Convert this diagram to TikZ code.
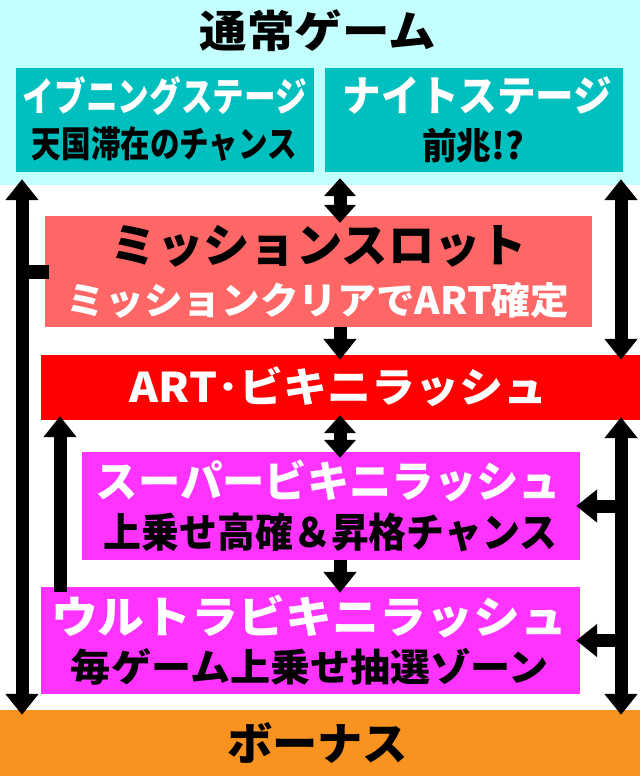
\documentclass[tikz,border=0pt]{standalone}
\usepackage{fontspec}
\usepackage{graphicx}
\newfontfamily\jpfont{Noto Sans CJK JP}
\usetikzlibrary{arrows.meta}
\definecolor{bandc}{HTML}{C4FFFF}
\definecolor{tealc}{HTML}{00BFBF}
\definecolor{salmonc}{HTML}{FF6666}
\definecolor{redc}{HTML}{FF0000}
\definecolor{magc}{HTML}{FF33FF}
\definecolor{orangec}{HTML}{F7931E}
\newcommand\fitbox[3]{\resizebox*{#1pt}{#2pt}{\jpfont\bfseries #3}}
\begin{document}
\begin{tikzpicture}[x=1pt,y=-1pt,
  boxs/.style={rectangle,inner sep=0pt,draw=none},
  lbl/.style={inner sep=0pt,outer sep=0pt,text=black},
  wlbl/.style={lbl,text=white},
  >={Triangle[width=32pt,length=21pt]},
  conn/.style={line width=13pt,draw=black},
  shortconn/.style={line width=13pt,draw=black,>={Triangle[width=31pt,length=18pt]}},
  barline/.style={line width=14pt,draw=black}]
\useasboundingbox (0,0) rectangle (640,776);
\fill[white] (0,0) rectangle (640,776);
% boxes
\node[boxs,fill=bandc,minimum width=640pt,minimum height=185pt] (band) at (320,92.5) {};
\node[boxs,fill=tealc,minimum width=298pt,minimum height=104pt] (even) at (165,120) {};
\node[boxs,fill=tealc,minimum width=298pt,minimum height=104pt] (night) at (474,120) {};
\node[boxs,fill=salmonc,minimum width=547pt,minimum height=111pt] (mission) at (318.5,271.5) {};
\node[boxs,fill=redc,minimum width=599pt,minimum height=65pt] (art) at (340.5,387.5) {};
\node[boxs,fill=magc,minimum width=498pt,minimum height=108pt] (super) at (331,506) {};
\node[boxs,fill=magc,minimum width=539pt,minimum height=107pt] (ultra) at (310.5,640.5) {};
\node[boxs,fill=orangec,minimum width=640pt,minimum height=66pt] (bonus) at (320,743) {};
% texts
\node[lbl] (t1) at (318,31) {\fitbox{236}{42}{通常ゲーム}};
\node[wlbl] (t2) at (165,95.5) {\fitbox{284}{39}{イブニングステージ}};
\node[lbl] (t3) at (164.5,144.5) {\fitbox{265}{35}{天国滞在のチャンス}};
\node[wlbl] (t4) at (477.5,96) {\fitbox{269}{38}{ナイトステージ}};
\node[lbl] (t5) at (473,145.5) {\fitbox{102}{35}{前兆!?}};
\node[lbl] (t6) at (319,246) {\fitbox{416}{42}{ミッションスロット}};
\node[wlbl] (t7) at (318,300) {\fitbox{502}{36}{ミッションクリアでART確定}};
\node[wlbl] (t8) at (338.5,387) {\fitbox{417}{40}{ART･ビキニラッシュ}};
\node[wlbl] (t9) at (328.5,481) {\fitbox{465}{42}{スーパービキニラッシュ}};
\node[lbl] (t10) at (330.5,532.5) {\fitbox{453}{39}{上乗せ高確＆昇格チャンス}};
\node[wlbl] (t11) at (309,616.5) {\fitbox{516}{43}{ウルトラビキニラッシュ}};
\node[lbl] (t12) at (310,666.5) {\fitbox{478}{37}{毎ゲーム上乗せ抽選ゾーン}};
\node[lbl] (t13) at (317.5,742.5) {\fitbox{181}{41}{ボーナス}};
% column positions
\coordinate (xl) at (22,0);
\coordinate (xl2) at (60,0);
\coordinate (xm) at (340,0);
\coordinate (xr) at (621,0);
% connectors
\draw[conn,<->] ([yshift=6pt]band.south -| xl) -- ([yshift=-5pt]bonus.north -| xl);
\draw[barline] (mission.west -| xl) -- ([xshift=4pt]mission.west);
\draw[shortconn,<->] ([yshift=7pt]band.south -| xm) -- ([yshift=-7pt]mission.north -| xm);
\draw[conn,->] (mission.south -| xm) -- ([yshift=-5pt]art.north -| xm);
\draw[conn,<->] ([yshift=6pt]band.south -| xr) -- ([yshift=-5pt]art.north -| xr);
\draw[shortconn,<->] ([yshift=5pt]art.south -| xm) -- ([yshift=-6pt]super.north -| xm);
\draw[conn,<->] ([yshift=3pt]art.south -| xr) -- ([yshift=-5pt]bonus.north -| xr);
\draw[conn,->] (super.east -| xr) -- ([xshift=-4pt]super.east);
\draw[conn,->] (ultra.east -| xr) -- ([xshift=-4pt]ultra.east);
\draw[conn,->] ([yshift=-5pt]ultra.north -| xl2) -- ([yshift=4pt]art.south -| xl2);
\draw[conn,->] (super.south -| xm) -- ([yshift=-6pt]ultra.north -| xm);
\end{tikzpicture}
\end{document}
